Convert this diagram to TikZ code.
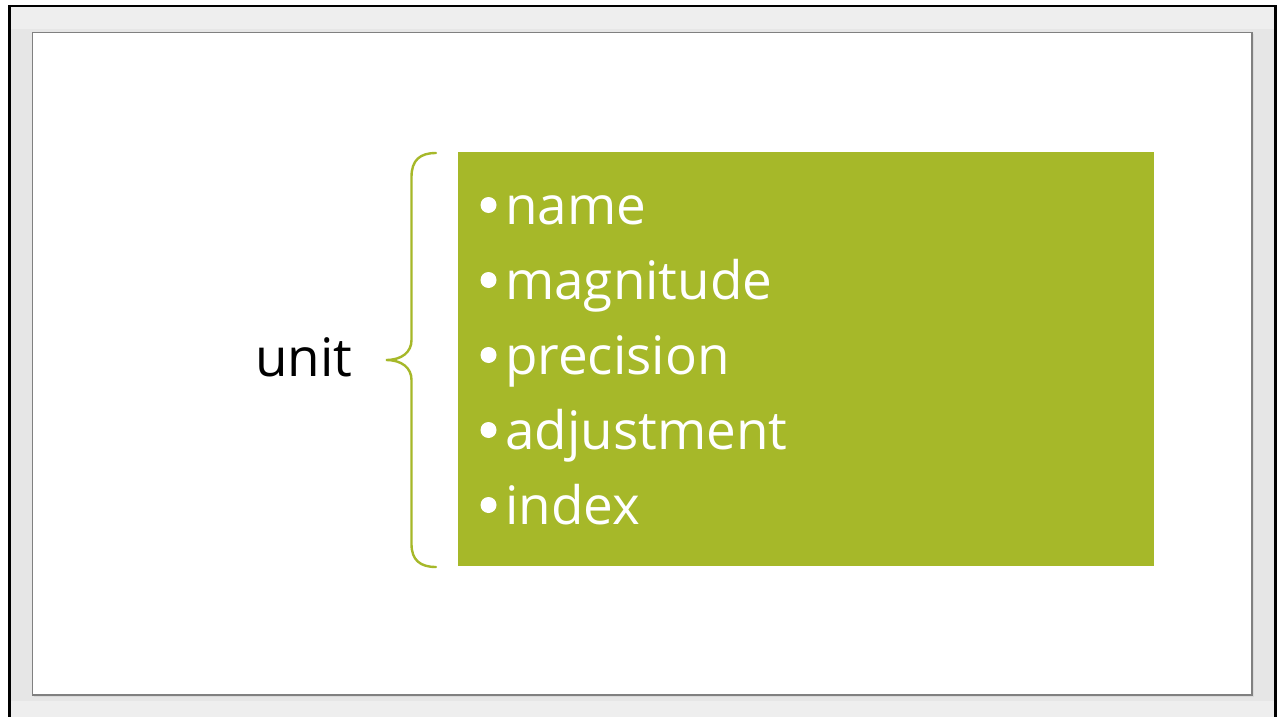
\documentclass[tikz,border=0pt]{standalone}
\usepackage{fontspec}
\setmainfont{Open Sans}
\definecolor{lime}{RGB}{166,184,41}
\definecolor{bandA}{RGB}{230,230,230}
\definecolor{bandB}{RGB}{238,238,238}
\definecolor{slideedge}{RGB}{128,128,128}
\tikzset{
  itemtext/.style={anchor=base west, inner sep=0pt, text=white, font=\fontsize{53}{53}\selectfont},
  labeltext/.style={anchor=base west, inner sep=0pt, text=black, font=\fontsize{53}{53}\selectfont},
  bulletdot/.style={fill=white},
  bracepath/.style={draw=lime, line width=2.4pt, line cap=round}
}
\begin{document}
\begin{tikzpicture}[x=1pt,y=-1pt]
\useasboundingbox (0,0) rectangle (1278,717);
\fill[white] (0,0) rectangle (1278,717);
% window background
\fill[bandA] (10,7) rectangle (1274,717);
\fill[bandB] (10,7) rectangle (1274,29);
\fill[bandB] (10,701) rectangle (1274,717);
% black frame lines
\fill[black] (8,5) rectangle (10.5,717);
\fill[black] (8,5) rectangle (1277,7.5);
\fill[black] (1274,5) rectangle (1277,717);
% slide
\fill[gray!30] (34,34) rectangle (1254,697);
\draw[slideedge, line width=1.8pt, fill=white] (32.5,32.5) rectangle (1252,695);
% green box
\node[fill=lime, inner sep=0pt, minimum width=696pt, minimum height=414pt, anchor=north west] (box) at (458,152) {};
% brace
\coordinate (bt) at (436,153);
\coordinate (bm) at (386,360);
\coordinate (bb) at (436,567);
\draw[bracepath] (bt) .. controls (420,153) and (411.5,160) .. (411.5,177)
  -- (411.5,340) .. controls (411.5,352) and (402,360) .. (bm)
  .. controls (402,360) and (411.5,368) .. (411.5,380)
  -- (411.5,544) .. controls (411.5,560) and (420,567) .. (bb);
% label
\node[labeltext] (unit) at (255,376) {unit};
% items
\node[itemtext] (i1) at (505,224) {name};
\node[itemtext] (i2) at (505,299) {magnitude};
\node[itemtext] (i3) at (505,374) {precision};
\node[itemtext] (i4) at (505,449) {adjustment};
\node[itemtext] (i5) at (505,524) {index};
\foreach \n in {i1,i2,i3,i4,i5}{
  \fill[bulletdot] ([xshift=-16.5pt,yshift=19pt]\n.base west) circle (8pt);
}
\end{tikzpicture}
\end{document}
